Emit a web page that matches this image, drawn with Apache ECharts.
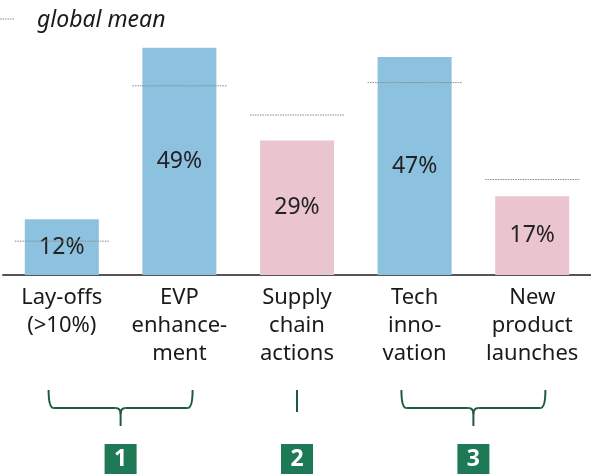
<!DOCTYPE html>
<html>

<head>
    <meta charset="utf-8" />
    <script src="https://cdn.jsdelivr.net/npm/echarts@6/dist/echarts.min.js"></script>
</head>

<body>
    <style>
        html,
        body {
            margin: 0;
            background: #fff;
        }

        #main {
            width: 591px;
            height: 476px;
        }
    </style>
    <div id="main"></div>

    <script type="text/javascript">
        // data
        const categories = ['Lay-offs\n(>10%)', 'EVP\nenhance-\nment', 'Supply\nchain\nactions', 'Tech\ninno-\nvation', 'New\nproduct\nlaunches'];
        const shares = [12, 49, 29, 47, 17];
        const globalMean = [7.3, 40.8, 34.5, 41.5, 20.6];
        const tone = ['a', 'a', 'b', 'a', 'b'];
        // bracket groups (category indices) and their numbers
        const groups = [[0, 1], [2], [3, 4]];
        const groupLabels = ['1', '2', '3'];

        const TONE_COLORS = { a: '#8cc2e0', b: '#eac4cf' };
        const FONT = '"Noto Sans", sans-serif';
        const BAR_W = 74;
        const GREEN = '#1d5c3a';

        var chart = echarts.init(document.getElementById('main'), null, { renderer: 'canvas' });

        chart.setOption({
            animation: false,
            grid: {
                left: 3,
                width: 594,
                top: 20,
                bottom: 201,
            },
            xAxis: {
                type: 'category',
                data: categories,
                axisTick: { show: false },
                axisLine: { lineStyle: { color: '#555', width: 2 } },
                axisLabel: {
                    margin: 9,
                    fontFamily: FONT,
                    fontSize: 22,
                    lineHeight: 28,
                    color: '#1a1a1a',
                    interval: 0,
                },
            },
            yAxis: {
                type: 'value',
                min: 0,
                max: 55,
                show: false,
                splitLine: { show: false },
            },
            series: [
                {
                    type: 'bar',
                    barWidth: BAR_W,
                    data: shares.map((v, i) => ({
                        value: v,
                        itemStyle: { color: TONE_COLORS[tone[i]] },
                    })),
                    label: {
                        show: true,
                        position: 'inside',
                        formatter: '{c}%',
                        fontFamily: FONT,
                        fontSize: 23,
                        color: '#222',
                    },
                    z: 2,
                },
                {
                    type: 'custom',
                    data: globalMean.map((v, i) => [i, v]),
                    z: 5,
                    renderItem: function (params, api) {
                        var p = api.coord([api.value(0), api.value(1)]);
                        var half = BAR_W / 2 + 10;
                        return {
                            type: 'line',
                            shape: { x1: p[0] - half, y1: p[1], x2: p[0] + half, y2: p[1] },
                            style: { stroke: '#8a8a8a', lineWidth: 1, lineDash: [1.5, 1] },
                        };
                    },
                },
            ],
        });

        function seg(x1, y1, x2, y2) {
            return { type: 'line', shape: { x1: x1, y1: y1, x2: x2, y2: y2 }, style: { stroke: GREEN, lineWidth: 2 } };
        }
        function curve(x1, y1, cx, cy, x2, y2) {
            return {
                type: 'bezierCurve',
                shape: { x1: x1, y1: y1, x2: x2, y2: y2, cpx1: cx, cpy1: cy },
                style: { stroke: GREEN, lineWidth: 2, fill: null },
            };
        }

        // legend + brackets as graphics, placed from the category axis
        function drawExtras() {
            var elements = [
                {
                    type: 'line',
                    shape: { x1: 0, y1: 19, x2: 14, y2: 19 },
                    style: { stroke: '#8a8a8a', lineWidth: 1, lineDash: [1.5, 1] },
                },
                {
                    type: 'text',
                    x: 37,
                    y: 20,
                    style: {
                        text: 'global mean',
                        font: 'italic 23px "Noto Sans", sans-serif',
                        fill: '#1a1a1a',
                        verticalAlign: 'middle',
                    },
                },
            ];
            var yTop = 390, yMid = 408, yTip = 426;
            groups.forEach(function (g, k) {
                var first = chart.convertToPixel({ xAxisIndex: 0 }, g[0]);
                var last = chart.convertToPixel({ xAxisIndex: 0 }, g[g.length - 1]);
                var c = (first + last) / 2;
                if (g.length === 1) {
                    elements.push(seg(c, yTop, c, yTop + 22));
                } else {
                    var l = c - 72, r = c + 72;
                    elements.push(
                        curve(l, yTop, l, yMid, l + 5, yMid),
                        seg(l + 5, yMid, c - 5, yMid),
                        curve(c - 5, yMid, c, yMid, c, yMid + 6),
                        curve(c + 5, yMid, c, yMid, c, yMid + 6),
                        seg(c, yMid + 6, c, yTip),
                        seg(c + 5, yMid, r - 5, yMid),
                        curve(r - 5, yMid, r, yMid, r, yTop)
                    );
                }
                elements.push({
                    type: 'rect',
                    shape: { x: c - 16, y: 444, width: 32, height: 30 },
                    style: { fill: '#1e7a56' },
                    textContent: {
                        style: {
                            text: groupLabels[k],
                            font: 'bold 23px "Noto Sans", sans-serif',
                            fill: '#fff',
                        },
                    },
                    textConfig: { position: 'inside' },
                });
            });
            chart.setOption({ graphic: { elements: elements } });
        }
        drawExtras();
    </script>
</body>

</html>
